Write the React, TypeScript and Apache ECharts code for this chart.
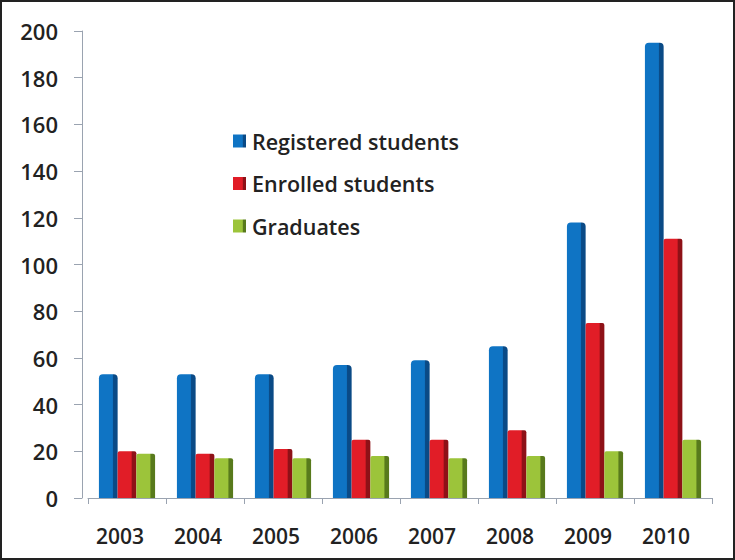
import React, { useEffect, useRef } from "react";
import * as echarts from "echarts";

const categories = ["2003", "2004", "2005", "2006", "2007", "2008", "2009", "2010"];
const registered = [53, 53, 53, 57, 59, 65, 118, 195];
const enrolled = [20, 19, 21, 25, 25, 29, 75, 111];
const graduates = [19, 17, 17, 18, 17, 18, 20, 25];
const seriesNames = ["Registered students", "Enrolled students", "Graduates"];

function grad(main: string, dark: string) {
  return new echarts.graphic.LinearGradient(0, 0, 1, 0, [
    { offset: 0, color: main },
    { offset: 0.72, color: main },
    { offset: 0.78, color: dark },
    { offset: 1, color: dark },
  ]);
}

export default function App() {
  const ref = useRef<HTMLDivElement>(null);
  useEffect(() => {
    if (!ref.current) return;
    const chart = echarts.init(ref.current, null, { renderer: "svg" });
    const font = "'Open Sans', 'Liberation Sans', sans-serif";
    chart.setOption({
      animation: false,
      backgroundColor: "#ffffff",
      textStyle: { fontFamily: font },
      graphic: [
        {
          type: "rect",
          shape: { x: 1, y: 1, width: 733, height: 558 },
          style: { fill: "none", stroke: "#222", lineWidth: 2 },
          z: 100,
        },
      ],
      legend: {
        orient: "vertical",
        left: 228,
        top: 125,
        itemWidth: 13,
        itemHeight: 13,
        itemGap: 20.5,
        icon: "rect",
        data: seriesNames,
        textStyle: { fontSize: 21.5, color: "#222", fontWeight: 600, fontFamily: font, padding: [0, 0, 0, 1] },
      },
      grid: { left: 88, right: 23, top: 31, bottom: 62 },
      xAxis: {
        type: "category",
        data: categories,
        axisLine: { lineStyle: { color: "#9aa3b0", width: 1 } },
        axisTick: { show: true, length: 6, lineStyle: { color: "#9aa3b0" } },
        axisLabel: {
          fontSize: 21,
          color: "#222",
          fontWeight: 600,
          margin: 27,
          padding: [0, 14, 0, 0],
          fontFamily: font,
        },
      },
      yAxis: {
        type: "value",
        min: 0,
        max: 200,
        interval: 20,
        offset: 6,
        splitLine: { show: false },
        axisLine: { show: true, lineStyle: { color: "#9aa3b0" } },
        axisTick: { show: true, length: 8, lineStyle: { color: "#9aa3b0" } },
        axisLabel: { fontSize: 22, color: "#222", fontWeight: 600, margin: 24, fontFamily: font },
      },
      series: [
        {
          name: seriesNames[0],
          type: "bar",
          data: registered,
          barGap: "0%",
          barCategoryGap: "28%",
          itemStyle: { color: grad("#0f74c4", "#0a4a86"), borderRadius: [4, 4, 0, 0] },
        },
        {
          name: seriesNames[1],
          type: "bar",
          data: enrolled,
          itemStyle: { color: grad("#e11d27", "#8e1117"), borderRadius: [2, 2, 0, 0] },
        },
        {
          name: seriesNames[2],
          type: "bar",
          data: graduates,
          itemStyle: { color: grad("#9cc43a", "#587a1c"), borderRadius: [2, 2, 0, 0] },
        },
      ],
    });
    return () => chart.dispose();
  }, []);
  return (
    <div
      ref={ref}
      style={{ position: "absolute", left: 0, top: 0, width: 735, height: 560 }}
    />
  );
}
